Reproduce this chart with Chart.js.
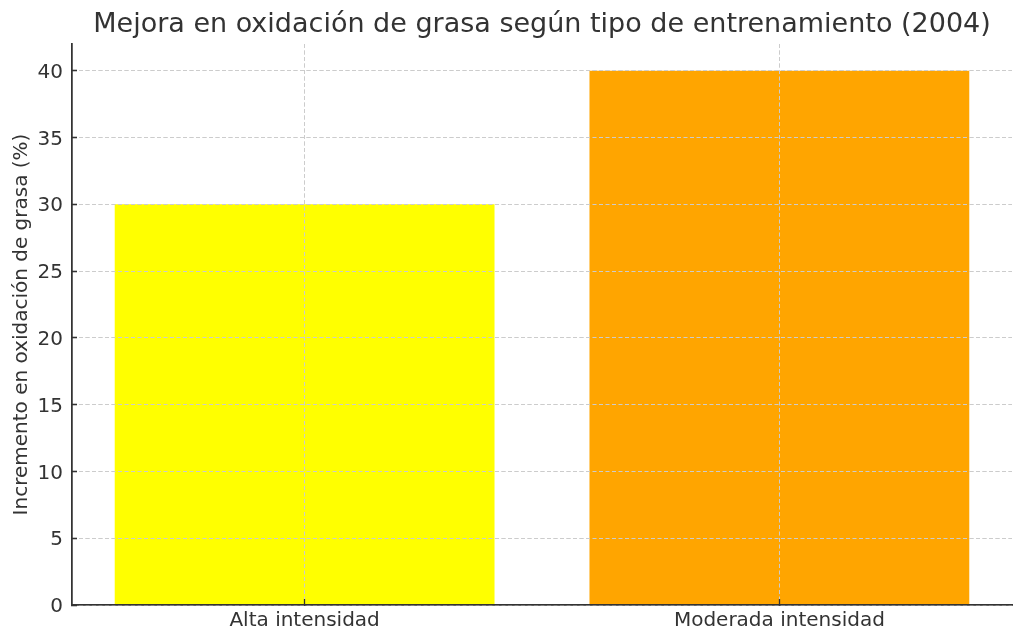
<!DOCTYPE html>
<html>
<head>
<meta charset="utf-8">
<script src="https://cdn.jsdelivr.net/npm/chart.js@4"></script>
<style>
  html, body { margin: 0; padding: 0; background: #ffffff; }
  #wrap { width: 1024px; height: 643px; }
</style>
</head>
<body>
<div id="wrap"><canvas id="c" width="1024" height="643"></canvas></div>
<script>
const categories = ['Alta intensidad', 'Moderada intensidad'];
const values = [30, 40];
const barColors = ['#ffff00', '#ffa500'];
const chartTitle = 'Mejora en oxidación de grasa según tipo de entrenamiento (2004)';
const yAxisTitle = 'Incremento en oxidación de grasa (%)';
const yMin = 0;
const yMax = 42;
const yStep = 5;
const xMin = -0.49;
const xMax = 1.49;

const textColor = '#333333';
const gridColor = '#cccccc';
const spineColor = '#333333';
const fontFamily = '"DejaVu Sans", sans-serif';

const gridOnTop = {
  id: 'gridOnTop',
  afterDatasetsDraw(chart) {
    const a = chart.chartArea;
    chart.scales.y.drawGrid(a);
    chart.scales.x.drawGrid(a);
    chart.scales.x.drawBorder();
    chart.scales.y.drawBorder();
  }
};

new Chart(document.getElementById('c'), {
  type: 'bar',
  data: {
    datasets: [{
      data: values.map((v, i) => ({ x: i, y: v })),
      backgroundColor: barColors,
      borderWidth: 0,
      categoryPercentage: 1.0,
      barPercentage: 0.8
    }]
  },
  options: {
    responsive: false,
    animation: false,
    devicePixelRatio: 1,
    layout: { padding: { left: 0, right: 12, top: 0, bottom: 0 } },
    plugins: {
      legend: { display: false },
      tooltip: { enabled: false },
      title: {
        display: true,
        text: chartTitle,
        fullSize: false,
        color: textColor,
        font: { family: fontFamily, size: 27, weight: 'normal' },
        padding: { top: 9, bottom: 2.6 }
      }
    },
    scales: {
      x: {
        type: 'linear',
        min: xMin,
        max: xMax,
        offset: false,
        afterFit(scale) { scale.height = 38; },
        afterBuildTicks(scale) {
          scale.ticks = categories.map((c, i) => ({ value: i }));
        },
        grid: {
          offset: false,
          color: gridColor,
          lineWidth: 1,
          drawTicks: true,
          tickLength: -6,
          tickColor: spineColor,
          tickWidth: 1.3,
          tickBorderDash: []
        },
        border: { display: true, color: spineColor, width: 1.5, dash: [4, 2.5] },
        ticks: {
          color: textColor,
          padding: 10,
          maxRotation: 0,
          autoSkip: false,
          callback: (v) => categories[v] ?? '',
          font: { family: fontFamily, size: 20 }
        }
      },
      y: {
        type: 'linear',
        min: yMin,
        max: yMax,
        afterFit(scale) { scale.width = 72; },
        afterBuildTicks(scale) {
          scale.ticks = scale.ticks.filter(t => t.value % yStep === 0);
        },
        grid: {
          color: gridColor,
          lineWidth: 1,
          drawTicks: true,
          tickLength: -5,
          tickColor: spineColor,
          tickWidth: 1.3,
          tickBorderDash: []
        },
        border: { display: true, color: spineColor, width: 1.5, dash: [4, 2.5] },
        ticks: {
          stepSize: yStep,
          color: textColor,
          padding: 14,
          labelOffset: 2,
          font: { family: fontFamily, size: 20 }
        },
        title: {
          display: true,
          text: yAxisTitle,
          color: textColor,
          font: { family: fontFamily, size: 20 },
          padding: { top: 10, bottom: 0 }
        }
      }
    }
  },
  plugins: [gridOnTop]
});
</script>
</body>
</html>
